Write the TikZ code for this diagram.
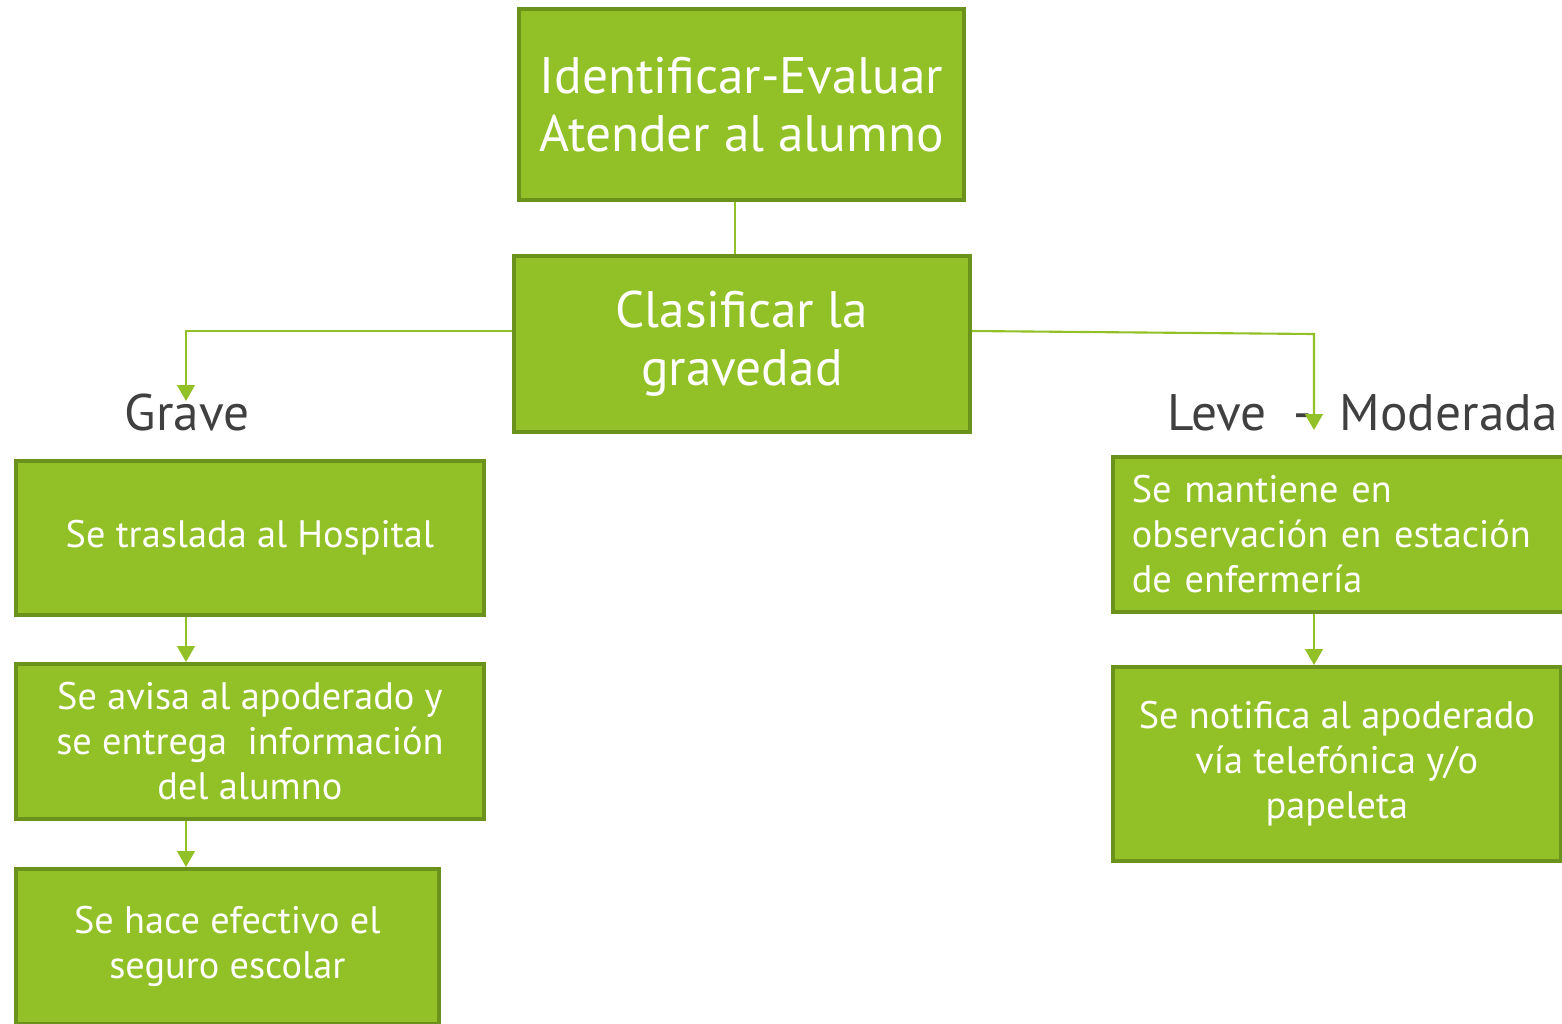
\documentclass[tikz,border=0pt]{standalone}
\usepackage{fontspec}
\setmainfont{PT Sans}
\usetikzlibrary{arrows.meta, positioning}
\definecolor{leaf}{RGB}{146,193,39}
\definecolor{leafdark}{RGB}{108,146,30}
\definecolor{labelgray}{RGB}{64,64,64}
\tikzstyle{stepbox} = [rectangle, fill=leaf, draw=leafdark, line width=1pt, text=white, align=center, inner sep=0pt, anchor=north west]
\tikzstyle{branch} = [text=labelgray, font=\fontsize{14.6}{17}\selectfont, inner sep=0pt]
\tikzstyle{link} = [draw=leaf, line width=0.6pt]

\begin{document}
\begin{tikzpicture}[x=0.01cm, y=-0.01cm]
        \tikzstyle{bigbox} = [stepbox, font=\fontsize{14.6}{16.4}\selectfont]
        \tikzstyle{smallbox} = [stepbox, font=\fontsize{10.9}{12.75}\selectfont]
        \useasboundingbox (0,0) rectangle (1562,1023);

        \node[bigbox, minimum width=4.45cm, minimum height=1.91cm] (identify) at (517,7) {Identificar-Evaluar\\Atender al alumno};
        \node[bigbox, minimum width=4.56cm, minimum height=1.76cm] (classify) at (512,254) {Clasificar la\\gravedad};

        \node[branch, anchor=base] (grave) at (187,430) {Grave};
        \node[branch, anchor=base west] (leve) at (1167,430) {Leve \ - \ Moderada};

        \node[smallbox, minimum width=4.68cm, minimum height=1.54cm] (hospital) at (14,459) {Se traslada al Hospital};
        \node[smallbox, minimum width=4.68cm, minimum height=1.55cm] (notify) at (14,662) {Se avisa al apoderado y\\se entrega \ información\\del alumno};
        \node[smallbox, minimum width=4.23cm, minimum height=1.55cm] (insurance) at (14,867) {Se hace efectivo el\\seguro escolar};

        \node[smallbox, minimum width=4.48cm, minimum height=1.55cm, align=left, text width=4.2cm, inner xsep=0.19cm] (observe) at (1111,455) {Se mantiene en\\observación en estación\\de enfermería};
        \node[smallbox, minimum width=4.48cm, minimum height=1.94cm] (phone) at (1111,665) {Se notifica al apoderado\\vía telefónica y/o\\papeleta};

        \draw[link] (identify.south-|735,0) -- (classify.north-|735,0);
        \draw[link, -{Triangle[width=5pt, length=4.5pt]}] (classify.west|-0,331) -| (186,401);
        \draw[link, -{Triangle[width=5pt, length=4.5pt]}] (classify.east|-0,331) -- (1314,334) -- (1314,430);
        \draw[link, -{Triangle[width=5pt, length=4.5pt]}] (hospital.south-|186,0) -- (notify.north-|186,0);
        \draw[link, -{Triangle[width=5pt, length=4.5pt]}] (notify.south-|186,0) -- (insurance.north-|186,0);
        \draw[link, -{Triangle[width=5pt, length=4.5pt]}] (observe.south-|1314,0) -- (phone.north-|1314,0);

    \end{tikzpicture}
\end{document}
